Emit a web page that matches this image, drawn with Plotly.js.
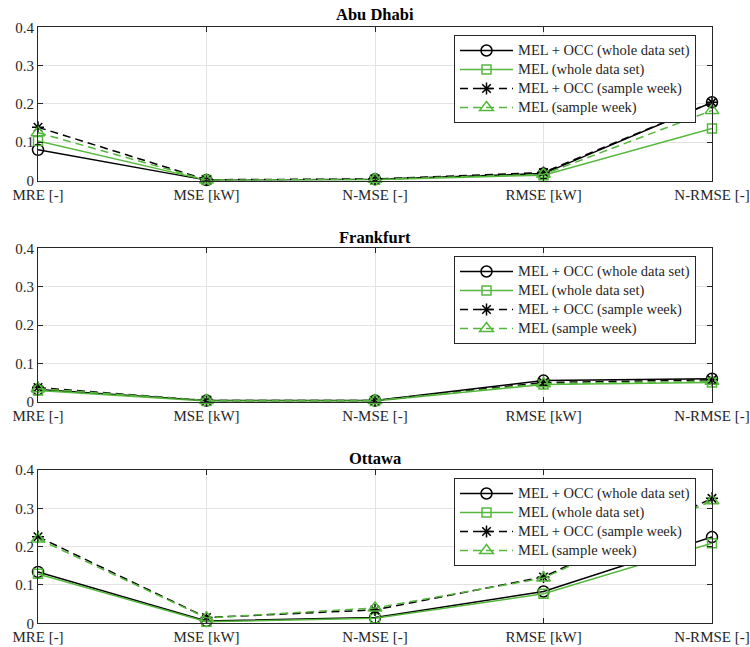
<!DOCTYPE html>
<html>
<head>
<meta charset="utf-8">
<script src="https://cdn.plot.ly/plotly-3.0.1.min.js"></script>
<style>html,body{margin:0;padding:0;background:#fff;}#chart{width:750px;height:647px;}</style>
</head>
<body>
<div id="chart"></div>
<script>
// ---- data ----
const categories = ["MRE [-]", "MSE [kW]", "N-MSE [-]", "RMSE [kW]", "N-RMSE [-]"];
const cities = ["Abu Dhabi", "Frankfurt", "Ottawa"];
const seriesNames = ["MEL + OCC (whole data set)", "MEL (whole data set)", "MEL + OCC (sample week)", "MEL (sample week)"];
const yTickVals = [0, 0.1, 0.2, 0.3, 0.4];
const yTickText = ["0", "0.1", "0.2", "0.3", "0.4"];

// Abu Dhabi
const abuMelOccWhole = [0.080, 0.001, 0.003, 0.018, 0.204];
const abuMelWhole    = [0.103, 0.001, 0.002, 0.014, 0.136];
const abuMelOccWeek  = [0.139, 0.002, 0.004, 0.021, 0.204];
const abuMelWeek     = [0.125, 0.001, 0.003, 0.016, 0.183];
// Frankfurt
const fraMelOccWhole = [0.032, 0.003, 0.003, 0.055, 0.060];
const fraMelWhole    = [0.029, 0.002, 0.002, 0.045, 0.050];
const fraMelOccWeek  = [0.037, 0.003, 0.003, 0.050, 0.057];
const fraMelWeek     = [0.034, 0.003, 0.003, 0.047, 0.053];
// Ottawa
const ottMelOccWhole = [0.134, 0.006, 0.015, 0.083, 0.225];
const ottMelWhole    = [0.129, 0.004, 0.013, 0.077, 0.209];
const ottMelOccWeek  = [0.226, 0.015, 0.035, 0.121, 0.326];
const ottMelWeek     = [0.220, 0.014, 0.040, 0.118, 0.320];

const cityData = [
  [abuMelOccWhole, abuMelWhole, abuMelOccWeek, abuMelWeek],
  [fraMelOccWhole, fraMelWhole, fraMelOccWeek, fraMelWeek],
  [ottMelOccWhole, ottMelWhole, ottMelOccWeek, ottMelWeek]
];

// ---- styling ----
const FONT = 'Liberation Serif';
const BLACK = '#000000';
const GREEN = '#55B83C';
const AXC = '#262626';
const styles = [
  {color: BLACK, dash: 'solid',   symbol: 'circle-open', size: 11},
  {color: GREEN, dash: 'solid',   symbol: 'square-open', size: 9},
  {color: BLACK, dash: '8px,5px', symbol: 'asterisk-open', size: 10},
  {color: GREEN, dash: '8px,5px', symbol: 'triangle-up-open', size: 12}
];

const W = 750, H = 647, L = 38, R = 38;
const plotTop = [27.3, 248.3, 470];
const plotBot = [180.5, 401.7, 623.3];
const legendTop = [35, 256, 478];
const titleY = [15, 237, 458];
const xv = categories.map((c, i) => i);

const traces = [];
const layout = {
  width: W, height: H,
  margin: {l: L, r: R, t: 0, b: 0, pad: 0},
  paper_bgcolor: '#ffffff', plot_bgcolor: '#ffffff',
  font: {family: FONT, size: 15, color: AXC},
  showlegend: true,
  annotations: []
};

cities.forEach((city, ci) => {
  const sfx = ci === 0 ? '' : String(ci + 1);
  cityData[ci].forEach((vals, si) => {
    const st = styles[si];
    traces.push({
      type: 'scatter', mode: 'lines+markers',
      x: xv, y: vals,
      xaxis: 'x' + sfx, yaxis: 'y' + sfx,
      name: '<span style="font-size:14.5px">' + seriesNames[si] + '</span>',
      legend: 'legend' + sfx,
      cliponaxis: false,
      line: {color: st.color, width: 1.5, dash: st.dash},
      marker: {symbol: st.symbol, size: st.size, color: st.color, line: {color: st.color, width: 1.5}}
    });
  });
  const dom = [1 - plotBot[ci] / H, 1 - plotTop[ci] / H];
  layout['xaxis' + sfx] = {
    domain: [0, 1], anchor: 'y' + sfx, range: [0, 4],
    tickmode: 'array', tickvals: xv, ticktext: categories,
    ticks: 'inside', ticklen: 5, tickcolor: AXC,
    showline: true, linecolor: AXC, linewidth: 1, mirror: 'ticks',
    showgrid: true, gridcolor: '#e3e3e3', gridwidth: 1, zeroline: false,
    tickfont: {family: FONT, size: 15, color: AXC}, fixedrange: true
  };
  layout['yaxis' + sfx] = {
    domain: dom, anchor: 'x' + sfx, range: [0, 0.4],
    tickmode: 'array', tickvals: yTickVals, ticktext: yTickText,
    ticks: 'inside', ticklen: 5, tickcolor: AXC,
    showline: true, linecolor: AXC, linewidth: 1, mirror: 'ticks',
    showgrid: true, gridcolor: '#e3e3e3', gridwidth: 1, zeroline: false,
    tickfont: {family: FONT, size: 15, color: AXC}, fixedrange: true
  };
  layout['legend' + sfx] = {
    x: (454 - L) / (W - L - R), xanchor: 'left',
    y: 1 - legendTop[ci] / H, yanchor: 'top',
    bgcolor: '#ffffff', bordercolor: AXC, borderwidth: 1,
    font: {family: FONT, size: 12, color: AXC},
    itemwidth: 53, tracegroupgap: 0
  };
  layout.annotations.push({
    text: '<b>' + city + '</b>', xref: 'paper', yref: 'paper',
    x: 0.5, y: 1 - titleY[ci] / H, xanchor: 'center', yanchor: 'middle',
    showarrow: false, font: {family: FONT, size: 16.5, color: '#000000'}
  });
});

Plotly.newPlot('chart', traces, layout, {displayModeBar: false, staticPlot: true});
</script>
</body>
</html>
